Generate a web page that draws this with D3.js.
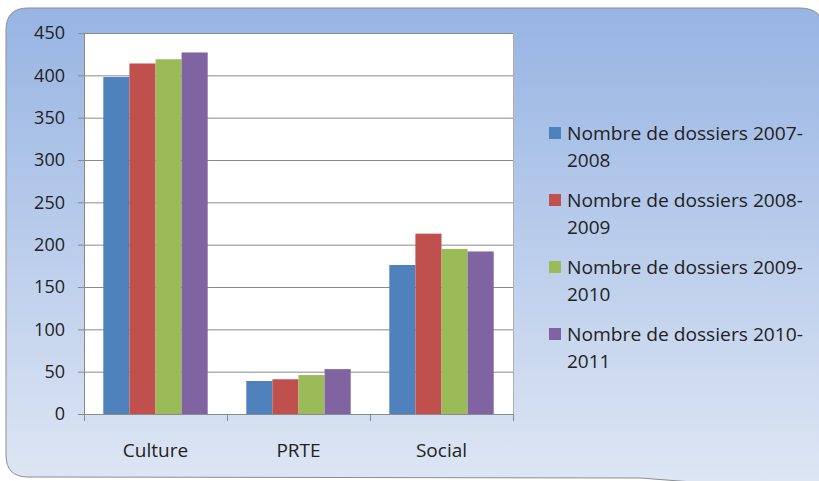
<!DOCTYPE html>
<html>
<head>
<meta charset="utf-8">
<script src="https://cdn.jsdelivr.net/npm/d3@7"></script>
<style>
  body { margin: 0; background: #fff; }
  text { font-family: "Open Sans", "Liberation Sans", sans-serif; fill: #222; }
</style>
</head>
<body>
<div id="chart"></div>
<script>
const categories = ["Culture", "PRTE", "Social"];
const seriesNames = [
    ["Nombre de dossiers 2007-", "2008"],
    ["Nombre de dossiers 2008-", "2009"],
    ["Nombre de dossiers 2009-", "2010"],
    ["Nombre de dossiers 2010-", "2011"]
];
const v2007 = [398, 39, 176];
const v2008 = [414, 41, 213];
const v2009 = [419, 46, 195];
const v2010 = [427, 53, 192];
const yTicks = [0, 50, 100, 150, 200, 250, 300, 350, 400, 450];
const colors = ["#4f81bd", "#c0504d", "#9bbb59", "#8064a2"];

const series = [v2007, v2008, v2009, v2010];

const width = 819, height = 481;
const plot = { left: 84, top: 33, right: 513, bottom: 414 };

const svg = d3.select("#chart").append("svg")
    .attr("width", width)
    .attr("height", height);

const defs = svg.append("defs");
const grad = defs.append("linearGradient")
    .attr("id", "bg")
    .attr("x1", 0).attr("y1", 0).attr("x2", 0).attr("y2", 1);
grad.append("stop").attr("offset", "0%").attr("stop-color", "#97b4e3");
grad.append("stop").attr("offset", "100%").attr("stop-color", "#dfe7f4");

// chart area background: rounded corners, right and lower-right parts run off the picture
svg.append("path")
    .attr("d", "M6,30 Q6,8 28,8 L800,8 Q824,8 824,32 L824,492 L640,478 L28,477 Q6,477 6,455 Z")
    .attr("fill", "url(#bg)")
    .attr("stroke", "#8d8d8d")
    .attr("stroke-width", 1);

const x0 = d3.scaleBand()
    .domain(categories)
    .range([plot.left, plot.right])
    .paddingInner(0.27)
    .paddingOuter(0.135);

const x1 = d3.scaleBand()
    .domain(d3.range(series.length))
    .range([0, x0.bandwidth()]);

const y = d3.scaleLinear()
    .domain([0, 450])
    .range([plot.bottom, plot.top]);

// plot area
svg.append("rect")
    .attr("x", plot.left).attr("y", plot.top)
    .attr("width", plot.right - plot.left)
    .attr("height", plot.bottom - plot.top)
    .attr("fill", "#fff");

// gridlines
svg.append("g")
    .selectAll("line")
    .data(yTicks.filter(d => d > 0))
    .enter().append("line")
    .attr("x1", plot.left).attr("x2", plot.right)
    .attr("y1", d => y(d) + 0.5).attr("y2", d => y(d) + 0.5)
    .attr("stroke", "#8a8a8a")
    .attr("stroke-width", 1);

// right edge of the plot area
svg.append("line")
    .attr("x1", plot.right + 0.5).attr("x2", plot.right + 0.5)
    .attr("y1", plot.top).attr("y2", plot.bottom)
    .attr("stroke", "#b0b0b0");

// bars
const groups = svg.append("g")
    .selectAll("g")
    .data(categories)
    .enter().append("g")
    .attr("transform", d => `translate(${x0(d)},0)`);

groups.selectAll("rect")
    .data((d, i) => series.map((s, j) => ({ j, value: s[i] })))
    .enter().append("rect")
    .attr("x", d => x1(d.j))
    .attr("y", d => y(d.value))
    .attr("width", x1.bandwidth())
    .attr("height", d => y(0) - y(d.value))
    .attr("fill", d => colors[d.j]);

// y axis
const yAxis = svg.append("g")
    .attr("transform", `translate(${plot.left},0)`)
    .call(d3.axisLeft(y).tickValues(yTicks).tickSize(6).tickPadding(13));
yAxis.select(".domain").attr("stroke", "#8a8a8a");
yAxis.selectAll(".tick line").attr("stroke", "#8a8a8a");
yAxis.selectAll(".tick text")
    .style("font-size", "18px")
    .attr("fill", "#222");

// x axis with tick marks at category boundaries
const xAxisG = svg.append("g");
xAxisG.append("line")
    .attr("x1", plot.left).attr("x2", plot.right)
    .attr("y1", y(0) + 0.5).attr("y2", y(0) + 0.5)
    .attr("stroke", "#8a8a8a");
const step = (plot.right - plot.left) / categories.length;
xAxisG.selectAll(".xt")
    .data(d3.range(categories.length + 1))
    .enter().append("line")
    .attr("x1", d => plot.left + d * step + 0.5)
    .attr("x2", d => plot.left + d * step + 0.5)
    .attr("y1", y(0)).attr("y2", y(0) + 7)
    .attr("stroke", "#8a8a8a");
xAxisG.selectAll("text")
    .data(categories)
    .enter().append("text")
    .attr("x", d => x0(d) + x0.bandwidth() / 2)
    .attr("y", 457)
    .attr("text-anchor", "middle")
    .style("font-size", "19px")
    .text(d => d);

// legend
const legend = svg.append("g")
    .selectAll("g")
    .data(seriesNames)
    .enter().append("g")
    .attr("transform", (d, i) => `translate(549,${133 + i * 67})`);
legend.append("rect")
    .attr("x", 0).attr("y", -6)
    .attr("width", 12).attr("height", 12)
    .attr("fill", (d, i) => colors[i]);
legend.append("text")
    .attr("x", 18).attr("y", 7)
    .style("font-size", "19px")
    .attr("textLength", 236)
    .attr("lengthAdjust", "spacingAndGlyphs")
    .text(d => d[0]);
legend.append("text")
    .attr("x", 18).attr("y", 34)
    .style("font-size", "19px")
    .text(d => d[1]);
</script>
</body>
</html>
